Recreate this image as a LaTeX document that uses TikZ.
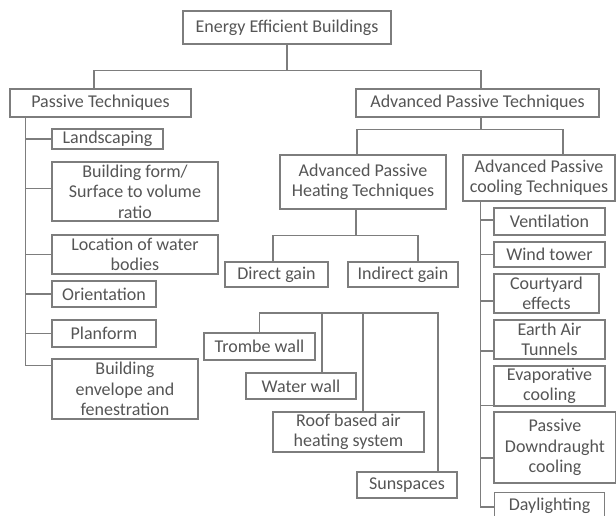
\documentclass[tikz,border=0pt]{standalone}
\usepackage{fontspec}
\setmainfont{Carlito}
\definecolor{textc}{RGB}{85,85,85}
\definecolor{linec}{RGB}{125,125,125}
\newcommand\mybox[6]{\node[box, minimum width={#4-#2}, minimum height={#5-#3}] (#1) at ({(#2+#4)/2},{-(#3+#5)/2}) {#6};}
\begin{document}
\begin{tikzpicture}[x=1pt,y=1pt,
  box/.style={draw=linec, line width=1.1pt, inner sep=0pt, align=center, text=textc,
    font=\fontsize{18}{20.5}\selectfont},
  conn/.style={draw=linec, line width=1.1pt}]
\useasboundingbox[fill=white] (0,0) rectangle (616,-515);
% boxes
\mybox{root}{183}{11}{391}{44}{Energy Efficient Buildings}
\mybox{pt}{10}{89}{191}{117}{Passive Techniques}
\mybox{apt}{356}{89}{599}{117}{Advanced Passive Techniques}
\mybox{ls}{52}{129}{163}{149}{Landscaping}
\mybox{bf}{52}{162}{218}{221}{Building form/\\Surface to volume\\ratio}
\mybox{lw}{52}{235}{218}{274}{Location of water\\bodies}
\mybox{or}{52}{281}{156}{307}{Orientation}
\mybox{pf}{52}{320}{156}{347}{Planform}
\mybox{be}{52}{359}{198}{419}{Building\\envelope and\\fenestration}
\mybox{hp}{280}{155}{446}{209}{Advanced Passive\\Heating Techniques}
\mybox{cool}{463}{155}{615}{201}{Advanced Passive\\cooling Techniques}
\mybox{dg}{225}{262}{328}{287}{Direct gain}
\mybox{ig}{348}{262}{458}{287}{Indirect gain}
\mybox{tw}{204}{333}{315}{360}{Trombe wall}
\mybox{ww}{246}{373}{356}{399}{Water wall}
\mybox{rb}{273}{412}{424}{452}{Roof based air\\heating system}
\mybox{ss}{357}{472}{457}{498}{Sunspaces}
\mybox{ve}{494}{208}{605}{235}{Ventilation}
\mybox{wt}{494}{242}{605}{267}{Wind tower}
\mybox{ce}{494}{274}{599}{313}{Courtyard\\effects}
\mybox{ea}{494}{320}{605}{359}{Earth Air\\Tunnels}
\mybox{ev}{494}{366}{605}{406}{Evaporative\\cooling}
\mybox{pd}{494}{412}{616}{483}{Passive\\Downdraught\\cooling}
\node[box, minimum width=110, minimum height=38, anchor=north west] (dl) at (494,-492) {\raisebox{0pt}[0pt][0pt]{}\\[-25pt]Daylighting};
% top level
\coordinate (j1) at ([yshift=-26pt]root.south);
\draw[conn] (root.south) -- (j1);
\draw[conn] ([xshift=-6.5pt]pt.north) |- (j1) -| ([xshift=3.5pt]apt.north);
% passive column
\coordinate (ptr) at ([xshift=16pt]pt.south west);
\draw[conn] (ptr) |- ([yshift=-7pt]be.north west);
\draw[conn] (ptr |- ls.west) -- (ls.west);
\draw[conn] ([yshift=3pt]ptr |- bf.west) -- ([yshift=3pt]bf.west);
\draw[conn] (ptr |- lw.west) -- (lw.west);
\draw[conn] (ptr |- or.west) -- (or.west);
\draw[conn] (ptr |- pf.west) -- (pf.west);
% advanced
\coordinate (j2) at ([xshift=3.5pt,yshift=-12pt]apt.south);
\draw[conn] ([xshift=3.5pt]apt.south) -- (j2);
\draw[conn] ([xshift=-6pt]hp.north) |- (j2) -| ([xshift=24pt]cool.north);
% heating
\coordinate (j3) at ([xshift=-7pt,yshift=-26pt]hp.south);
\draw[conn] ([xshift=-7pt]hp.south) -- (j3);
\draw[conn] ([xshift=-3.5pt]dg.north) |- (j3) -| ([xshift=15pt]ig.north);
% floating group
\coordinate (fl) at (259,-313);
\coordinate (fr) at (438,-313);
\draw[conn] (tw.north) |- (fr) -- (fr |- ss.north);
\draw[conn] ([xshift=21pt]ww.north) -- ([xshift=21pt]ww.north |- fl);
\draw[conn] ([xshift=14.5pt]rb.north) -- ([xshift=14.5pt]rb.north |- fl);
% cooling column
\coordinate (ctr) at ([xshift=18pt]cool.south west);
\draw[conn] (ctr) |- ([yshift=-15pt]dl.north west);
\draw[conn] ([yshift=1.5pt]ctr |- ve.west) -- ([yshift=1.5pt]ve.west);
\draw[conn] (ctr |- wt.west) -- (wt.west);
\draw[conn] ([yshift=-7.5pt]ctr |- ce.west) -- ([yshift=-7.5pt]ce.west);
\draw[conn] ([yshift=-11.5pt]ctr |- ea.west) -- ([yshift=-11.5pt]ea.west);
\draw[conn] ([yshift=1pt]ctr |- ev.south west) -- ([yshift=1pt]ev.south west);
\draw[conn] ([yshift=-10.5pt]ctr |- pd.west) -- ([yshift=-10.5pt]pd.west);
\end{tikzpicture}
\end{document}
